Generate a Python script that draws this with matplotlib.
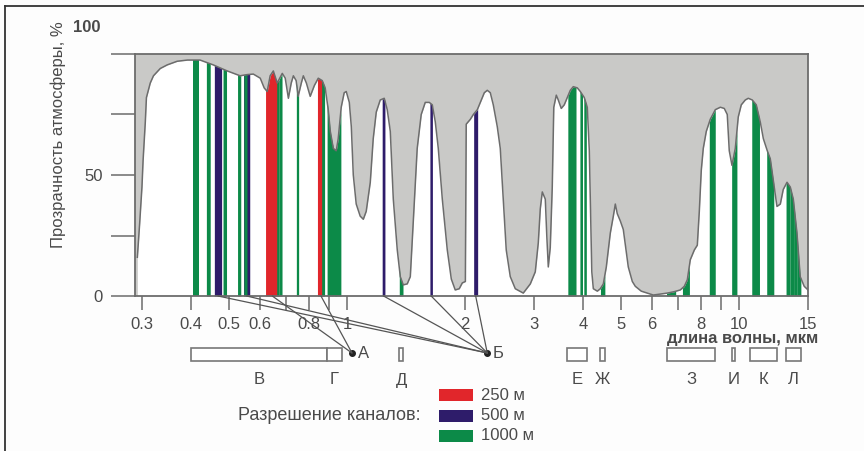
import numpy as np
import matplotlib
matplotlib.use("Agg")
import matplotlib.pyplot as plt
import matplotlib.transforms as mtransforms
from matplotlib.patches import Rectangle
from matplotlib.lines import Line2D

plt.rcParams['font.family'] = ['Liberation Sans', 'DejaVu Sans']

# atmospheric transmission curve (wavelength, um -> %)
wavelength = [0.292, 0.296, 0.300, 0.302, 0.306, 0.308, 0.315, 0.321, 0.334, 0.348,
              0.369, 0.392, 0.422, 0.456, 0.495, 0.534, 0.557, 0.577, 0.601, 0.615,
              0.626, 0.637, 0.649, 0.664, 0.684, 0.696, 0.709, 0.721, 0.730, 0.742,
              0.751, 0.765, 0.774, 0.788, 0.806, 0.826, 0.845, 0.865, 0.880, 0.896,
              0.907, 0.923, 0.939, 0.950, 0.967, 0.984, 0.996, 1.014, 1.026, 1.038,
              1.056, 1.081, 1.101, 1.120, 1.147, 1.167, 1.188, 1.216, 1.245, 1.267,
              1.290, 1.313, 1.344, 1.368, 1.392, 1.425, 1.451, 1.476, 1.511, 1.547,
              1.584, 1.622, 1.651, 1.680, 1.710, 1.751, 1.803, 1.846, 1.889, 1.934,
              1.969, 2.005, 2.015, 2.064, 2.101, 2.151, 2.189, 2.241, 2.280, 2.321,
              2.362, 2.418, 2.461, 2.505, 2.549, 2.610, 2.688, 2.817, 2.936, 3.023,
              3.077, 3.113, 3.150, 3.206, 3.234, 3.263, 3.301, 3.340, 3.370, 3.420,
              3.460, 3.521, 3.584, 3.649, 3.713, 3.779, 3.869, 3.938, 4.031, 4.103,
              4.152, 4.176, 4.213, 4.251, 4.352, 4.429, 4.508, 4.588, 4.697, 4.781,
              4.837, 4.893, 4.981, 5.069, 5.159, 5.220, 5.345, 5.440, 5.633, 5.835,
              6.045, 6.299, 6.564, 6.840, 7.085, 7.254, 7.383, 7.514, 7.693, 7.830,
              7.922, 8.015, 8.109, 8.253, 8.448, 8.703, 8.962, 9.173, 9.335, 9.446,
              9.597, 9.786, 9.959, 10.137, 10.377, 10.562, 10.813, 11.07, 11.33, 11.54,
              11.81, 12.02, 12.23, 12.50, 12.75, 12.97, 13.26, 13.52, 13.76, 14.06,
              14.33, 14.67, 15.0]
transmission = [16, 30, 45, 56, 72, 82, 88, 91, 94, 95.5,
                97, 97.5, 97.5, 95.5, 93, 91, 91.5, 91.7, 90, 86,
                84.5, 91, 93, 88, 92, 90, 81.7, 88, 91, 89,
                82.5, 88, 91, 88, 82.5, 87, 90, 89, 86, 77,
                68, 61, 60, 65, 78, 84, 84.5, 80, 70, 50,
                38, 33, 31.7, 35, 47, 65, 76, 81, 81.7, 77,
                68, 40, 19, 8, 4.6, 5, 8, 30, 61, 75,
                80, 80, 79, 72, 61, 40, 19, 7, 2.5, 3,
                5.4, 6, 71, 73, 75, 77, 80, 84, 85, 84,
                79, 70, 61, 40, 19, 8, 3, 1.2, 5, 10,
                22, 36, 43, 40, 25, 12, 20, 45, 78, 83,
                81, 77.5, 79, 82, 85, 86.5, 86, 84.5, 82, 78,
                60, 40, 10, 3, 2, 3, 5, 12, 26, 33,
                38, 34, 31, 27.5, 18, 12, 6, 4, 2, 1.2,
                0.4, 0.8, 1.2, 1.8, 2.5, 4, 6.7, 15, 19, 21,
                35, 52, 61, 68, 73, 77, 78, 77.5, 75, 60,
                54, 61, 74, 79, 81, 81.7, 81, 79, 72, 65,
                60, 56.7, 48, 37, 38, 44, 47, 45, 40, 26,
                8, 4, 2.5]

# MODIS channels by spatial resolution (band edges, um)
bands_250 = [(0.620, 0.670), (0.841, 0.876)]
bands_500 = [(0.459, 0.479), (0.545, 0.565), (1.230, 1.250), (1.628, 1.652), (2.105, 2.155)]
bands_1000 = [(0.405, 0.420), (0.438, 0.448), (0.483, 0.493), (0.526, 0.536), (0.546, 0.556),
              (0.662, 0.672), (0.673, 0.683), (0.743, 0.753), (0.862, 0.877), (0.890, 0.920),
              (0.931, 0.941), (0.915, 0.965), (1.360, 1.390), (3.660, 3.840), (3.929, 3.989),
              (4.020, 4.080), (4.433, 4.498), (4.482, 4.549), (6.535, 6.895), (7.175, 7.475),
              (8.400, 8.700), (9.580, 9.880), (10.780, 11.280), (11.770, 12.270),
              (13.185, 13.485), (13.485, 13.785), (13.785, 14.085), (14.085, 14.385)]

# spectral ranges under the axis
ranges = ['В', 'Г', 'Д', 'Е', 'Ж', 'З', 'И', 'К', 'Л']
range_edges = [(0.40, 0.89), (0.89, 0.97), (1.36, 1.39), (3.65, 4.10), (4.43, 4.55),
               (6.55, 8.70), (9.60, 9.78), (10.7, 12.5), (13.2, 14.4)]

xticks = [0.3, 0.4, 0.5, 0.6, 0.7, 0.8, 0.9, 1, 2, 3, 4, 5, 6, 7, 8, 9, 10, 15]
xticklabels = ['0.3', '0.4', '0.5', '0.6', '', '0.8', '', '1', '2', '3', '4', '5', '6',
               '', '8', '', '10', '15']

red, purple, green = '#e1262b', '#2e1c6a', '#0c8a48'
edge = '#6c6c6c'
txt = '#4a4a4a'

W, H = 864, 451
fig = plt.figure(figsize=(W / 100, H / 100), dpi=100)
fig.patch.set_facecolor('#fdfdfd')
ax = fig.add_axes([135 / W, 1 - 296 / H, (808 - 135) / W, (296 - 54) / H])

wl = np.array(wavelength)
tr = np.array(transmission)

ax.set_xscale('log')
ax.set_xlim(0.288, 15)
ax.set_ylim(0, 100)
ax.set_facecolor('#c9c9c7')
ax.fill_between(wl, tr, 0, color='white', lw=0)

for bands, col in [(bands_250, red), (bands_500, purple), (bands_1000, green)]:
    for lo, hi in bands:
        g = np.linspace(lo, hi, 15)
        ax.fill_between(g, np.interp(g, wl, tr), 0, color=col, lw=0)

ax.plot(wl, tr, color=edge, lw=1.1)

for s in ax.spines.values():
    s.set_color(edge)
    s.set_linewidth(1.3)

ax.set_xticks(xticks)
ax.set_xticklabels(xticklabels)
ax.xaxis.set_minor_locator(matplotlib.ticker.NullLocator())
ax.set_yticks([0, 25, 50, 75, 100])
ax.set_yticklabels(['0', '', '50', '', ''])
ax.tick_params(axis='x', length=10, width=1.1, color=edge, labelsize=12, labelcolor=txt, pad=5)
ax.tick_params(axis='y', length=17, width=1.1, color=edge, labelsize=12, labelcolor=txt, pad=6)

fig.text(100 / W, 1 - 28 / H, '100', ha='right', va='center', fontsize=12,
         color=txt, fontweight='bold')
fig.text(58 / W, 1 - 135 / H, 'Прозрачность атмосферы, %', rotation=90,
         ha='center', va='center', fontsize=12, color=txt)
fig.text(743 / W, 1 - 339 / H, 'длина волны, мкм', ha='center', va='center',
         fontsize=12, color=txt, fontweight='bold')

blend = mtransforms.blended_transform_factory(ax.transData, fig.transFigure)

# range boxes and letters
for name, (lo, hi) in zip(ranges, range_edges):
    ax.add_patch(Rectangle((lo, 1 - 361 / H), hi - lo, 13 / H, transform=blend,
                           facecolor='white', edgecolor='#777777', lw=1.2, clip_on=False))
    ax.text(np.sqrt(lo * hi), 1 - 380 / H, name, transform=blend, ha='center',
            va='center', fontsize=12, color=txt)

# connectors from channels to the points A and Б
pt_a = (1.03, 1 - 353 / H)
pt_b = (2.28, 1 - 353 / H)
for lo, hi in bands_250:
    ax.annotate('', xy=((lo + hi) / 2, 0), xytext=pt_a, textcoords=blend,
                arrowprops=dict(arrowstyle='-', color='#555555', lw=0.9,
                                shrinkA=0, shrinkB=0), annotation_clip=False)
for lo, hi in bands_500:
    ax.annotate('', xy=((lo + hi) / 2, 0), xytext=pt_b, textcoords=blend,
                arrowprops=dict(arrowstyle='-', color='#555555', lw=0.9,
                                shrinkA=0, shrinkB=0), annotation_clip=False)
for (px, py), name in [(pt_a, 'А'), (pt_b, 'Б')]:
    ax.plot([px], [py], 'o', ms=4, color='#222222', transform=blend, clip_on=False)
    ax.annotate(name, xy=(px, py), xycoords=blend, xytext=(4, 0),
                textcoords='offset points', ha='left', va='center',
                fontsize=12, color=txt)

# legend of channel resolution
for i, (col, lab) in enumerate([(red, '250 м'), (purple, '500 м'), (green, '1000 м')]):
    y0 = 1 - (401 + 20.5 * i) / H
    fig.add_artist(Rectangle((439 / W, y0), 34 / W, 12 / H, transform=fig.transFigure,
                             facecolor=col, edgecolor='none'))
    fig.text(481 / W, y0 + 6 / H, lab, ha='left', va='center', fontsize=12, color=txt)
fig.text(420 / W, 1 - 415 / H, 'Разрешение каналов:', ha='right', va='center',
         fontsize=13, color=txt)

# frame of the figure
fig.add_artist(Line2D([5 / W, 5 / W], [0, 1 - 6 / H], color='#333333', lw=1.3,
                      transform=fig.transFigure))
fig.add_artist(Line2D([5 / W, 1], [1 - 6 / H, 1 - 6 / H], color='#333333', lw=1.3,
                      transform=fig.transFigure))

fig.savefig('out.png', dpi=100, facecolor=fig.get_facecolor())
